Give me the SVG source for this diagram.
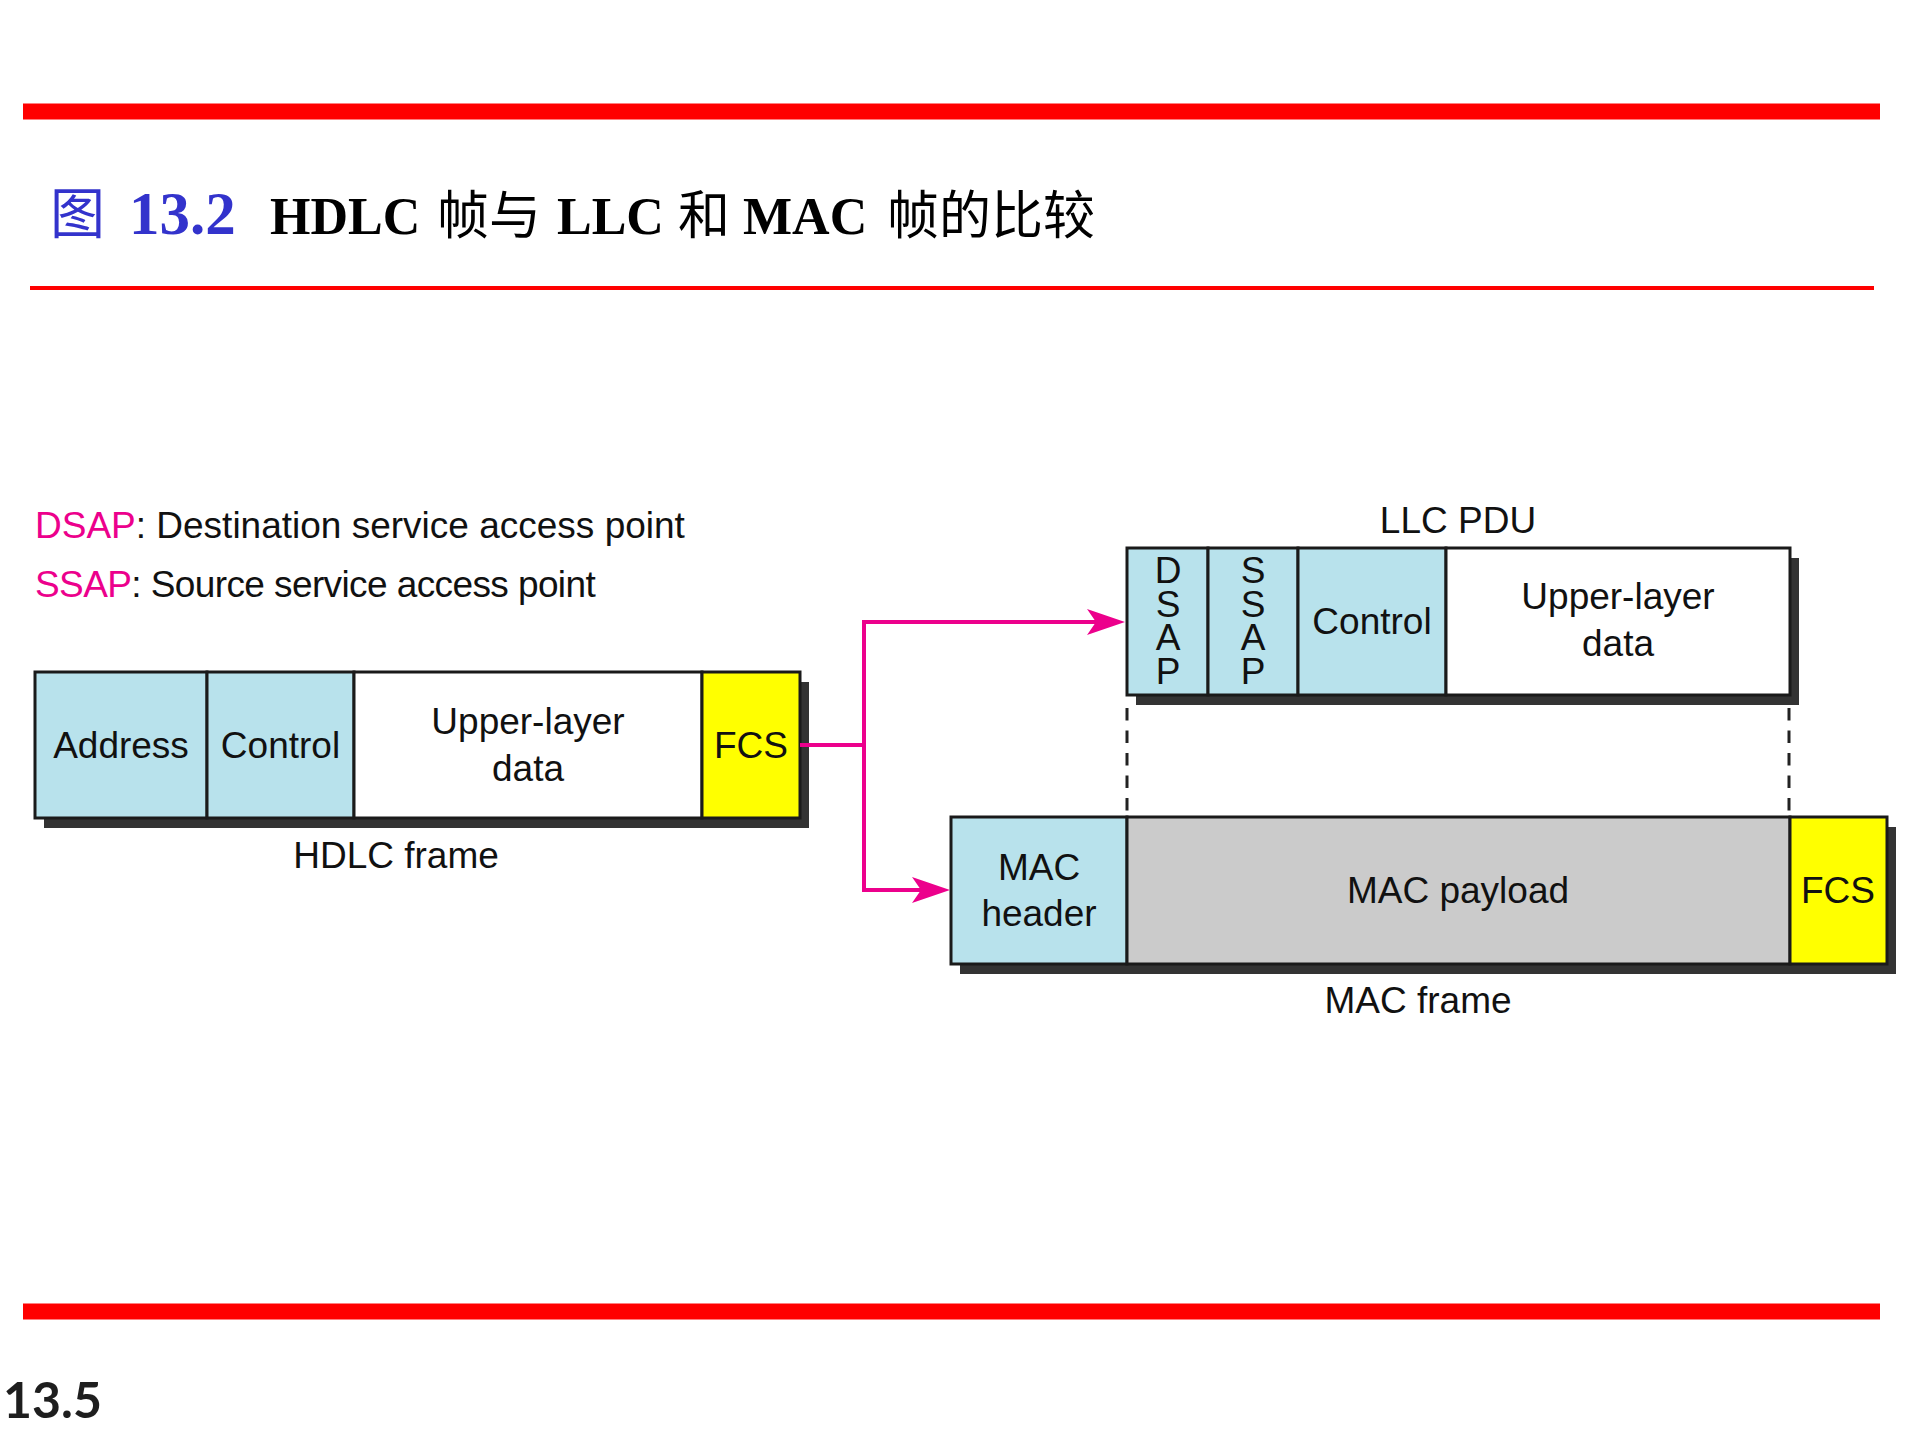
<svg xmlns="http://www.w3.org/2000/svg" width="1920" height="1440" viewBox="0 0 1920 1440">
  <defs>
    <marker id="arrow" markerUnits="userSpaceOnUse" viewBox="0 0 38 26" refX="9" refY="13" markerWidth="38" markerHeight="26" orient="auto">
      <path d="M0,0 L38,13 L0,26 L9,13 Z" fill="#ec008c"/>
    </marker>
    <style>
      .lbl { font-family: "Liberation Sans", Arial, sans-serif; font-size: 37px; fill: #111; }
      .mid { text-anchor: middle; }
      .vert { font-family: "Liberation Sans", Arial, sans-serif; font-size: 37px; fill: #111; writing-mode: vertical-rl; text-orientation: upright; letter-spacing: -7.3px; }
      .cell { stroke: #1a1a1a; stroke-width: 3; }
      .blue { fill: #b8e2ec; }
      .white { fill: #ffffff; }
      .yellow { fill: #ffff00; }
      .gray { fill: #cbcbcb; }
      .shadow { fill: #333333; }
      .pink { fill: #ec008c; }
      .conn { fill: none; stroke: #ec008c; stroke-width: 4; stroke-linejoin: miter; }
      .dash { fill: none; stroke: #222; stroke-width: 3; stroke-dasharray: 12.5 10; }
      .ttl { font-family: "Liberation Serif", "Times New Roman", serif; font-weight: bold; font-size: 52px; fill: #000; }
      .cjk { font-family: "Noto Sans CJK SC", sans-serif; font-weight: normal; font-size: 52px; }
    </style>
  </defs>

  <rect width="1920" height="1440" fill="#ffffff"/>

  <!-- decorative rules -->
  <g id="rules">
    <rect x="23" y="103.5" width="1857" height="16" fill="#ff0000"/>
    <rect x="30" y="286" width="1844" height="4" fill="#ff0000"/>
    <rect x="23" y="1303.5" width="1857" height="16" fill="#ff0000"/>
  </g>

  <!-- title -->
  <g id="title">
    <text x="50" y="233" font-family="Noto Sans CJK SC, sans-serif" font-size="55" fill="#3333cc">图</text>
    <text x="129" y="234" font-family="Liberation Serif, serif" font-weight="bold" font-size="61" fill="#3333cc">13.2</text>
    <text class="ttl" y="234">
      <tspan x="270">HDLC</tspan>
      <tspan x="437" class="cjk">帧与</tspan>
      <tspan x="557">LLC</tspan>
      <tspan x="678" class="cjk">和</tspan>
      <tspan x="743">MAC</tspan>
      <tspan x="887" class="cjk">帧的比较</tspan>
    </text>
  </g>

  <!-- legend -->
  <g id="legend">
    <text class="lbl" x="35" y="538"><tspan class="pink">DSAP</tspan>: Destination service access point</text>
    <text class="lbl" x="35" y="597" letter-spacing="-0.6"><tspan class="pink">SSAP</tspan>: Source service access point</text>
  </g>

  <!-- HDLC frame -->
  <g id="hdlc-frame">
    <rect class="shadow" x="44" y="682" width="765" height="146"/>
    <g id="hdlc-address">
      <rect class="cell blue" x="35" y="672" width="172" height="146"/>
      <text class="lbl mid" x="121" y="758">Address</text>
    </g>
    <g id="hdlc-control">
      <rect class="cell blue" x="207" y="672" width="147" height="146"/>
      <text class="lbl mid" x="280.5" y="758">Control</text>
    </g>
    <g id="hdlc-data">
      <rect class="cell white" x="354" y="672" width="348" height="146"/>
      <text class="lbl mid" x="528" y="734">Upper-layer</text>
      <text class="lbl mid" x="528" y="781">data</text>
    </g>
    <g id="hdlc-fcs">
      <rect class="cell yellow" x="702" y="672" width="98" height="146"/>
      <text class="lbl mid" x="751" y="758">FCS</text>
    </g>
    <text class="lbl mid" x="396" y="868">HDLC frame</text>
  </g>

  <!-- LLC PDU -->
  <g id="llc-pdu">
    <text class="lbl mid" x="1458" y="533">LLC PDU</text>
    <rect class="shadow" x="1136" y="558" width="663" height="147"/>
    <g id="llc-dsap">
      <rect class="cell blue" x="1127" y="548" width="81" height="147"/>
      <text class="vert" x="1168" y="550">DSAP</text>
    </g>
    <g id="llc-ssap">
      <rect class="cell blue" x="1208" y="548" width="90" height="147"/>
      <text class="vert" x="1253" y="550">SSAP</text>
    </g>
    <g id="llc-control">
      <rect class="cell blue" x="1298" y="548" width="148" height="147"/>
      <text class="lbl mid" x="1372" y="634">Control</text>
    </g>
    <g id="llc-data">
      <rect class="cell white" x="1446" y="548" width="344" height="147"/>
      <text class="lbl mid" x="1618" y="609">Upper-layer</text>
      <text class="lbl mid" x="1618" y="656">data</text>
    </g>
  </g>

  <!-- MAC frame -->
  <g id="mac-frame">
    <rect class="shadow" x="960" y="827" width="936" height="147"/>
    <g id="mac-header">
      <rect class="cell blue" x="951" y="817" width="176" height="147"/>
      <text class="lbl mid" x="1039" y="880">MAC</text>
      <text class="lbl mid" x="1039" y="926">header</text>
    </g>
    <g id="mac-payload">
      <rect class="cell gray" x="1127" y="817" width="663" height="147"/>
      <text class="lbl mid" x="1458" y="903">MAC payload</text>
    </g>
    <g id="mac-fcs">
      <rect class="cell yellow" x="1790" y="817" width="97" height="147"/>
      <text class="lbl mid" x="1838" y="903">FCS</text>
    </g>
    <text class="lbl mid" x="1418" y="1013">MAC frame</text>
  </g>

  <!-- connectors -->
  <g id="connectors">
    <path class="conn" d="M800,745 H864"/>
    <path class="conn" d="M864,745 V622 H1096" marker-end="url(#arrow)"/>
    <path class="conn" d="M864,745 V890 H921" marker-end="url(#arrow)"/>
    <path class="dash" d="M1127,708 V815"/>
    <path class="dash" d="M1789,708 V815"/>
  </g>

  <!-- page number -->
  <text x="3" y="1418" font-family="Lato, sans-serif" font-weight="bold" font-size="50" fill="#1e1e1e">13.5</text>
</svg>
